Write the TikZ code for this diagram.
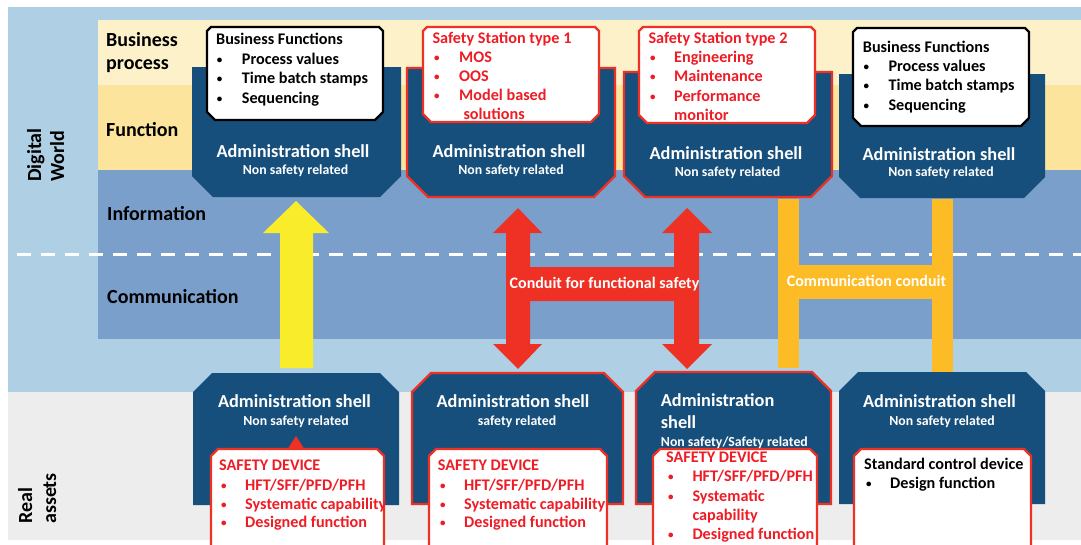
\documentclass[tikz,border=0pt]{standalone}
\usepackage{fontspec}
\setmainfont{Carlito}
\definecolor{bgblue}{HTML}{AFCFE5}
\definecolor{bggray}{HTML}{EDEDED}
\definecolor{cream}{HTML}{FDF1CA}
\definecolor{funcyel}{HTML}{FCE49C}
\definecolor{infoblue}{HTML}{7B9FCB}
\definecolor{navy}{HTML}{174F7C}
\definecolor{sred}{HTML}{EE3124}
\definecolor{txtred}{HTML}{EE1C25}
\definecolor{arrowyel}{HTML}{F8EC2B}
\definecolor{amber}{HTML}{FDBB26}
\newcommand\topshell[5]{\path[#5] (#1,#3) -- (#2,#3) -- (#2,{#4-21}) -- ({#2-21},#4) -- ({#1+21},#4) -- (#1,{#4-21}) -- cycle;}
\newcommand\botshell[5]{\path[#5] (#1,{#3+19}) -- ({#1+19},#3) -- ({#2-19},#3) -- (#2,{#3+19}) -- (#2,#4) -- (#1,#4) -- cycle;}
\newcommand\topcard[5]{\path[#5] ({#1+4},#3) -- ({#2-4},#3) -- (#2,{#3+4}) -- (#2,{#4-8}) -- ({#2-8},#4) -- ({#1+8},#4) -- (#1,{#4-8}) -- (#1,{#3+4}) -- cycle;}
\newcommand\botcard[4]{\path[#4] (#1,560) -- (#1,{#3+7}) -- ({#1+7},#3) -- ({#2-7},#3) -- (#2,{#3+7}) -- (#2,560) -- cycle;}
\newcommand\blt[6]{\node[#1] (#2d) at (#3,#5) {\fontsize{11}{11}\selectfont\raisebox{1pt}{\textbullet}}; \node[#1] (#2) at (#4,#5) {#6};}
\begin{document}
\begin{tikzpicture}[x=1pt,y=-1pt,
  lay/.style={font=\fontsize{20}{24}\selectfont\bfseries, anchor=base west, inner sep=0pt, text=black},
  sht/.style={font=\fontsize{18.3}{22}\selectfont\bfseries, anchor=base, inner sep=0pt, text=white},
  shs/.style={font=\fontsize{13.8}{16}\selectfont\bfseries, anchor=base, inner sep=0pt, text=white},
  ct/.style={font=\fontsize{16.2}{19}\selectfont\bfseries, anchor=base west, inner sep=0pt, text=black},
  ctr/.style={ct, text=txtred},
  navyshell/.style={fill=navy},
  redshell/.style={fill=navy, draw=sred, line width=2.2pt},
  blackcard/.style={fill=white, draw=black, line width=2.2pt},
  redcard/.style={fill=white, draw=sred, line width=2.2pt},
  cond/.style={font=\fontsize{16}{19}\selectfont\bfseries, anchor=base, inner sep=0pt, text=white}]
\path[use as bounding box] (0,0) rectangle (1081,544);
\clip (0,0) rectangle (1081,544);
% backgrounds
\fill[white] (0,0) rectangle (1081,544);
\fill[bgblue] (8,7) rectangle (1081,392);
\fill[bggray] (8,392) rectangle (1081,540);
\fill[cream] (98,20) rectangle (1081,85);
\fill[funcyel] (98,85) rectangle (1081,170);
\fill[infoblue] (98,170) rectangle (1081,339);
\draw[white, line width=3pt, dash pattern=on 14pt off 10pt] (17,254) -- (1081,254);
% layer labels
\node[lay] (lbp1) at (106,46.7) {Business};
\node[lay] (lbp2) at (106,69.5) {process};
\node[lay] (lfn) at (106,136) {Function};
\node[lay] (linf) at (107,220) {Information};
\node[lay] (lcom) at (107,303.3) {Communication};
\node[lay, rotate=90] (ldw1) at (41,182) {Digital};
\node[lay, rotate=90] (ldw2) at (64,182) {World};
\node[lay, rotate=90] (lra1) at (32,524) {Real};
\node[lay, rotate=90] (lra2) at (56,524) {assets};
% top shells
\topshell{192}{401}{67}{197}{navyshell}
\topshell{407}{615}{68}{197}{redshell}
\topshell{624}{832}{72}{197}{redshell}
\topshell{839}{1045}{74}{198}{navyshell}
% top cards
\topcard{207}{383}{27}{120}{blackcard}
\topcard{423}{599}{27}{122}{redcard}
\topcard{639}{815}{27}{123}{redcard}
\topcard{853}{1029}{28}{126}{blackcard}
% arrows
\fill[arrowyel] (280,368) -- (280,233) -- (263,233) -- (296,201) -- (329,233) -- (313,233) -- (313,368) -- cycle;
\fill[sred] (518,208) -- (542,233) -- (530,233) -- (530,267) -- (674,267) -- (674,233) -- (662,233) -- (687,208) -- (712,233) -- (699,233) -- (699,344) -- (712,344) -- (687,369) -- (662,344) -- (674,344) -- (674,301) -- (530,301) -- (530,344) -- (542,344) -- (518,369) -- (493,344) -- (506,344) -- (506,233) -- (493,233) -- cycle;
\fill[amber] (778,199) rectangle (799,368);
\fill[amber] (932,199) rectangle (953,372);
\fill[amber] (799,265) rectangle (932,299);
\node[cond] (cfs) at (604.5,288.3) {Conduit for functional safety};
\node[cond] (ccd) at (866.5,286) {Communication conduit};
% bottom shells
\botshell{193}{399}{373}{505}{navyshell}
\botshell{412}{623}{373}{504}{redshell}
\botshell{636}{831}{372}{504}{redshell}
\botshell{839}{1045}{372}{504}{navyshell}
\fill[sred] (296,436) -- (305,450) -- (287,450) -- cycle;
% bottom cards
\botcard{211}{384}{449}{redcard}
\botcard{429}{607}{449}{redcard}
\botcard{653}{817}{449}{redcard}
\botcard{854}{1031}{449}{redcard}
% top shell texts
\node[sht] (s1t) at (293,157.3) {Administration shell};
\node[shs] (s1s) at (295.5,174) {Non safety related};
\node[sht] (s2t) at (509,157.3) {Administration shell};
\node[shs] (s2s) at (511,174.7) {Non safety related};
\node[sht] (s3t) at (726,159) {Administration shell};
\node[shs] (s3s) at (727.5,176.7) {Non safety related};
\node[sht] (s4t) at (939,160) {Administration shell};
\node[shs] (s4s) at (941,176.7) {Non safety related};
% top card texts
\node[ct] (c1h) at (216,44.5) {Business Functions};
\blt{ct}{c1a}{216.7}{241.7}{64}{Process values}
\blt{ct}{c1b}{216.7}{241.7}{83.5}{Time batch stamps}
\blt{ct}{c1c}{216.7}{241.7}{103}{Sequencing}
\node[ctr] (c2h) at (432.3,43.5) {Safety Station type 1};
\blt{ctr}{c2a}{434}{459}{62.5}{MOS}
\blt{ctr}{c2b}{434}{459}{81.7}{OOS}
\blt{ctr}{c2c}{434}{459}{100.7}{Model based}
\node[ctr] (c2e) at (463.3,119.5) {solutions};
\node[ctr] (c3h) at (648.3,43.5) {Safety Station type 2};
\blt{ctr}{c3a}{650}{674}{62.5}{Engineering}
\blt{ctr}{c3b}{650}{674}{81.7}{Maintenance}
\blt{ctr}{c3c}{650}{674}{101}{Performance}
\node[ctr] (c3e) at (674,120) {monitor};
\node[ct] (c4h) at (862.7,52.3) {Business Functions};
\blt{ct}{c4a}{863.3}{888.3}{71.7}{Process values}
\blt{ct}{c4b}{863.3}{888.3}{90.7}{Time batch stamps}
\blt{ct}{c4c}{863.3}{888.3}{110}{Sequencing}
% bottom shell texts
\node[sht] (s5t) at (294.5,407.7) {Administration shell};
\node[shs] (s5s) at (296,425) {Non safety related};
\node[sht] (s6t) at (513,407.7) {Administration shell};
\node[shs] (s6s) at (517,425) {safety related};
\node[sht, anchor=base west] (s7t) at (660.7,406.7) {Administration};
\node[sht, anchor=base west] (s7u) at (660.7,428.3) {shell};
\node[shs, anchor=base west] (s7s) at (660.7,446) {Non safety/Safety related};
\node[sht] (s8t) at (939.5,407.7) {Administration shell};
\node[shs] (s8s) at (942,425) {Non safety related};
% bottom card texts
\node[ctr] (c5h) at (219,470.7) {SAFETY DEVICE};
\blt{ctr}{c5a}{221}{245}{490}{HFT/SFF/PFD/PFH}
\blt{ctr}{c5b}{221}{245}{509}{Systematic capability}
\blt{ctr}{c5c}{221}{245}{527.7}{Designed function}
\node[ctr] (c6h) at (437.7,470.7) {SAFETY DEVICE};
\blt{ctr}{c6a}{440}{464}{490}{HFT/SFF/PFD/PFH}
\blt{ctr}{c6b}{440}{464}{509}{Systematic capability}
\blt{ctr}{c6c}{440}{464}{527.7}{Designed function}
\node[ctr] (c7h) at (666,462.3) {SAFETY DEVICE};
\blt{ctr}{c7a}{668}{692.3}{481.7}{HFT/SFF/PFD/PFH}
\blt{ctr}{c7b}{668}{692.3}{501}{Systematic}
\node[ctr] (c7e) at (692.3,520) {capability};
\blt{ctr}{c7c}{668}{692.3}{539.3}{Designed function}
\node[ct] (c8h) at (864,469.3) {Standard control device};
\blt{ct}{c8a}{866}{890}{488.3}{Design function}
\end{tikzpicture}
\end{document}
